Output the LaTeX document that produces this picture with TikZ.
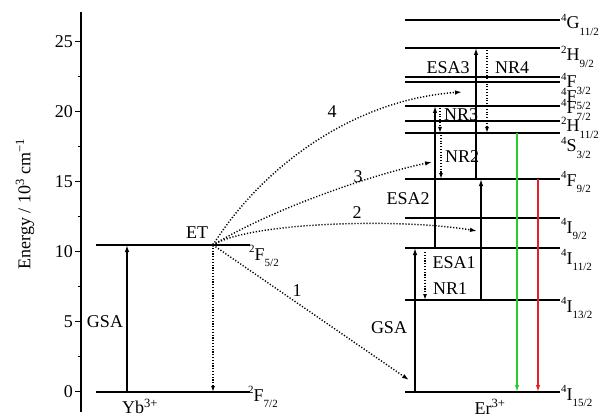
\documentclass[tikz,border=0pt]{standalone}
\usepackage{fontspec}
\setmainfont{Liberation Serif}
\usetikzlibrary{arrows.meta}
\definecolor{emgreen}{RGB}{40,205,40}
\definecolor{emred}{RGB}{230,30,40}
\newcommand\lvlab[3]{\raisebox{0.42em}{\fontsize{11}{11}\selectfont #1}#2\raisebox{-0.38em}{\fontsize{11}{11}\selectfont #3}}
\begin{document}
\begin{tikzpicture}[x=1pt,y=-1pt,
  lev/.style={line width=1.6pt},
  axl/.style={line width=1.2pt},
  arr/.style={line width=1.3pt,-{Latex[length=7pt,width=4.5pt]}},
  nr/.style={line width=1.3pt,dash pattern=on 1.1pt off 1.7pt,-{Latex[length=6pt,width=4pt]}},
  et/.style={line width=1.4pt,dash pattern=on 1.2pt off 1.8pt,-{Latex[length=7pt,width=4.5pt]}},
  txt/.style={font=\fontsize{18}{18}\selectfont,inner sep=0pt},
  lab/.style={txt,anchor=base west}]
\useasboundingbox (0,0) rectangle (612,414);

% axis
\draw[axl] (81,12) -- (81,412);
\foreach \v/\yy in {0/391.7,5/321.7,10/251.7,15/181.7,20/111.7,25/41.7}{
  \draw[axl] (75,\yy) -- (81,\yy);
  \node[txt,anchor=east] (tick\v) at (73,\yy) {\v};
}
\foreach \yy in {356.7,286.7,216.7,146.7,76.7}{
  \draw[axl] (77.5,\yy) -- (81,\yy);
}
\node[txt,rotate=90] (ylab) at (25,204) {Energy / 10\textsuperscript{3} cm\textsuperscript{−1}};

% Yb levels
\draw[lev] (96,392) -- (250,392);
\draw[lev] (96,245) -- (250,245);
\node[lab] (ybF52) at (249,260) {\lvlab{2}{F}{5/2}};
\node[lab] (ybF72) at (248,401) {\lvlab{2}{F}{7/2}};
\coordinate (ybg) at (127,392);
\coordinate (ybe) at (127,245);
\draw[arr] (ybg) -- (ybe);
\node[txt] (gsaYb) at (105,322) {GSA};
\coordinate (ET) at (213,245);
\coordinate (etd) at (213,392);
\draw[nr] (ET) -- (etd);
\fill (ET) circle (1.8);
\node[txt] (etl) at (197,233) {ET};
\node[txt,anchor=base] (yb) at (140,413.5) {Yb\textsuperscript{3+}};

% Er levels
\foreach \yy in {20,48,77,82,106,121,133,179,218,248,300,392}{
  \draw[lev] (405,\yy) -- (560,\yy);
}
\node[lab] (G112) at (561,29) {\lvlab{4}{G}{11/2}};
\node[lab] (H92) at (561,61) {\lvlab{2}{H}{9/2}};
\node[lab] (F32) at (561,88) {\lvlab{4}{F}{3/2}};
\node[lab] (F52) at (561,103) {\lvlab{4}{F}{5/2}};
\node[lab] (F72) at (561,114) {\lvlab{4}{F}{7/2}};
\node[lab] (H112) at (561,132) {\lvlab{2}{H}{11/2}};
\node[lab] (S32) at (561,152) {\lvlab{4}{S}{3/2}};
\node[lab] (F92) at (561,186) {\lvlab{4}{F}{9/2}};
\node[lab] (I92) at (561,233) {\lvlab{4}{I}{9/2}};
\node[lab] (I112) at (561,264) {\lvlab{4}{I}{11/2}};
\node[lab] (I132) at (561,312) {\lvlab{4}{I}{13/2}};
\node[lab] (I152) at (561,400) {\lvlab{4}{I}{15/2}};
\node[txt,anchor=base] (er) at (490,414) {Er\textsuperscript{3+}};

% Er transitions
\coordinate (gA) at (415,392); \coordinate (gB) at (415,248);
\draw[arr] (gA) -- (gB);
\node[txt] (gsaEr) at (389,328) {GSA};
\coordinate (e1A) at (481,300); \coordinate (e1B) at (481,179);
\draw[arr] (e1A) -- (e1B);
\node[txt] (esa1) at (454,263) {ESA1};
\coordinate (e2A) at (435,248); \coordinate (e2B) at (435,106);
\draw[arr] (e2A) -- (e2B);
\node[txt] (esa2) at (408,199) {ESA2};
\coordinate (e3A) at (476,179); \coordinate (e3B) at (476,48);
\draw[arr] (e3A) -- (e3B);
\node[txt] (esa3) at (448,68) {ESA3};
\coordinate (n1A) at (425,252); \coordinate (n1B) at (425,300);
\draw[nr] (n1A) -- (n1B);
\node[txt] (nr1) at (450,289) {NR1};
\coordinate (n2A) at (441,135); \coordinate (n2B) at (441,179);
\draw[nr] (n2A) -- (n2B);
\node[txt] (nr2) at (462,157) {NR2};
\coordinate (n3A) at (440,108); \coordinate (n3B) at (440,133);
\draw[nr] (n3A) -- (n3B);
\node[txt] (nr3) at (461,115) {NR3};
\coordinate (n4A) at (487,50); \coordinate (n4B) at (487,133);
\draw[nr] (n4A) -- (n4B);
\node[txt] (nr4) at (512,68) {NR4};
\coordinate (grA) at (517,133); \coordinate (grB) at (517,392);
\draw[arr,emgreen] (grA) -- (grB);
\coordinate (rdA) at (538,179); \coordinate (rdB) at (538,392);
\draw[arr,emred] (rdA) -- (rdB);

% energy transfer paths
\coordinate (t1) at (409,380);
\coordinate (t2) at (477,231);
\coordinate (t3) at (432,162);
\coordinate (t4) at (462,92);
\draw[et] (ET) -- (t1);
\draw[et] (ET) .. controls (250,222) and (400,218) .. (t2);
\draw[et] (ET) .. controls (270,210) and (370,175) .. (t3);
\draw[et] (ET) .. controls (260,170) and (350,100) .. (t4);
\node[txt] (l1) at (297,291) {1};
\node[txt] (l2) at (357,213) {2};
\node[txt] (l3) at (358,177) {3};
\node[txt] (l4) at (332,112) {4};
\end{tikzpicture}
\end{document}
